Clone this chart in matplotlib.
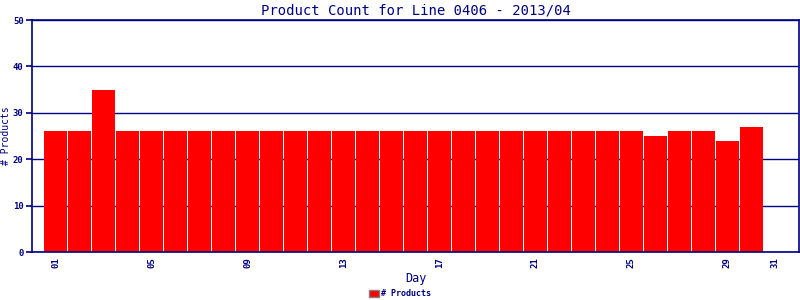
import numpy as np
import matplotlib
matplotlib.use('Agg')
import matplotlib.pyplot as plt
from matplotlib.patches import Patch

days = list(range(1, 31))
products = [26, 26, 35, 26, 26, 26, 26, 26, 26, 26,
            26, 26, 26, 26, 26, 26, 26, 26, 26, 26,
            26, 26, 26, 26, 26, 25, 26, 26, 24, 27]
tick_days = [1, 5, 9, 13, 17, 21, 25, 29, 31]
tick_labels = ['01', '05', '09', '13', '17', '21', '25', '29', '31']

navy = '#000080'
plt.rcParams['font.family'] = 'DejaVu Sans Mono'

fig = plt.figure(figsize=(8, 3), dpi=100)
ax = fig.add_axes([0.04, 0.16, 0.95875, 0.7733])

ax.bar(days, products, width=0.96, color='#ff0000', zorder=2)

ax.set_xlim(0.02, 31.98)
ax.set_ylim(0, 50)
ax.set_yticks([0, 10, 20, 30, 40, 50])
ax.set_xticks(tick_days)
ax.set_xticklabels(tick_labels, rotation=90)
ax.yaxis.grid(True, color=navy, linewidth=1, zorder=1)
ax.set_axisbelow(True)

for s in ax.spines.values():
    s.set_color(navy)
    s.set_linewidth(1.2)

ax.tick_params(axis='y', colors=navy, length=4, width=1.2, labelsize=6.5, pad=2)
ax.tick_params(axis='x', colors=navy, length=0, labelsize=6.5, pad=4)
for lbl in ax.get_yticklabels() + ax.get_xticklabels():
    lbl.set_fontweight('bold')

ax.set_title('Product Count for Line 0406 - 2013/04', color=navy, fontsize=10, pad=4)
ax.set_xlabel('Day', color=navy, fontsize=8.5, labelpad=3)
ax.set_ylabel('# Products', color=navy, fontsize=7)
ax.yaxis.set_label_coords(-0.027, 0.5)

handle = Patch(facecolor='#ff0000', edgecolor='#808080', linewidth=1)
fig.legend([handle], ['# Products'], loc='lower center', bbox_to_anchor=(0.5, -0.02),
           frameon=False, handlelength=1.2, handleheight=0.9,
           handletextpad=0.3, labelcolor=navy, prop={'weight': 'bold', 'size': 6})

fig.savefig('out.png', dpi=100)
